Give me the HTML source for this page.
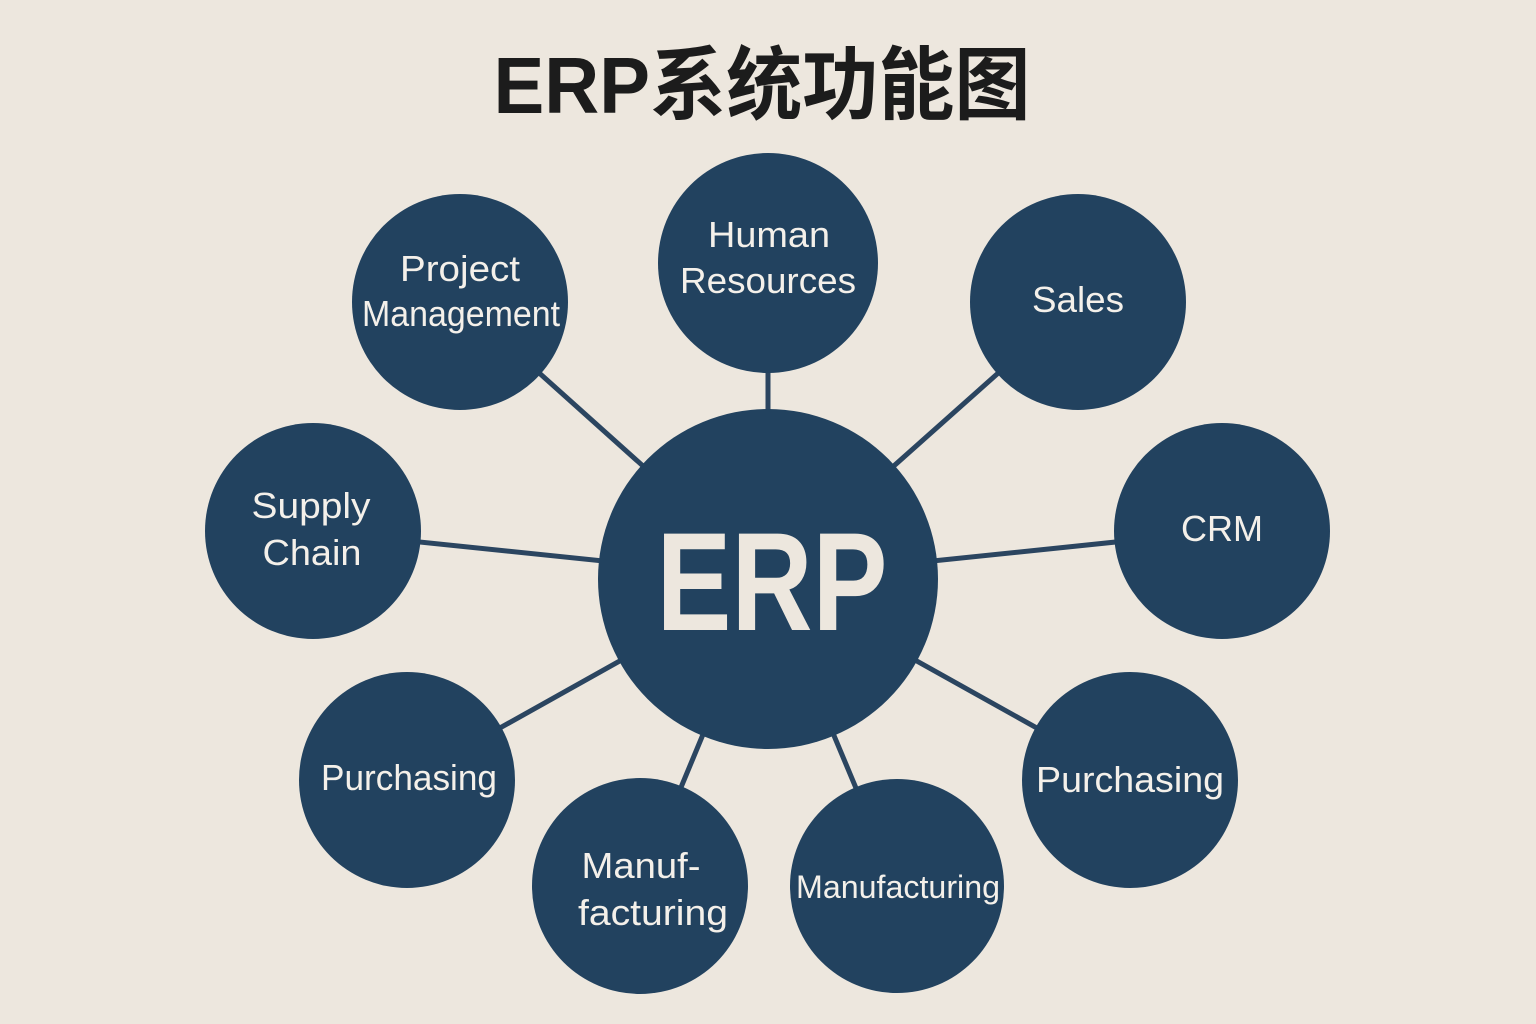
<!DOCTYPE html>
<html><head><meta charset="utf-8"><style>
html,body{margin:0;padding:0;background:#EDE7DE;}
svg{display:block}
text{font-family:"Liberation Sans","Noto Sans CJK SC",sans-serif;fill:#F4F0EA;text-anchor:middle}
</style></head><body>
<svg width="1536" height="1024" viewBox="0 0 1536 1024">
<rect width="1536" height="1024" fill="#EDE7DE"/>
<text x="762" y="113" style="fill:#1C1C1C;font-weight:bold;font-size:80px" textLength="537" lengthAdjust="spacingAndGlyphs">ERP系统功能图</text>
<g stroke="#2B4560" stroke-width="5">
<line x1="768" y1="578" x2="768" y2="263"/>
<line x1="768" y1="578" x2="460" y2="302"/>
<line x1="768" y1="578" x2="1078" y2="302"/>
<line x1="768" y1="578" x2="313" y2="531"/>
<line x1="768" y1="578" x2="1222" y2="531"/>
<line x1="768" y1="578" x2="407" y2="780"/>
<line x1="768" y1="578" x2="1130" y2="780"/>
<line x1="768" y1="578" x2="640" y2="886"/>
<line x1="768" y1="578" x2="897" y2="886"/>
</g>
<g fill="#22425F">
<circle cx="768" cy="579" r="170"/>
<circle cx="768" cy="263" r="110"/>
<circle cx="460" cy="302" r="108"/>
<circle cx="1078" cy="302" r="108"/>
<circle cx="313" cy="531" r="108"/>
<circle cx="1222" cy="531" r="108"/>
<circle cx="407" cy="780" r="108"/>
<circle cx="1130" cy="780" r="108"/>
<circle cx="640" cy="886" r="108"/>
<circle cx="897" cy="886" r="107"/>
</g>
<text x="772" y="630" style="font-weight:bold;font-size:140px;fill:#EDE7DE" textLength="231" lengthAdjust="spacingAndGlyphs">ERP</text>
<g style="font-size:36px">
<text x="769" y="247" textLength="122" lengthAdjust="spacingAndGlyphs">Human</text>
<text x="768" y="293" textLength="176" lengthAdjust="spacingAndGlyphs">Resources</text>
<text x="460" y="281" textLength="120" lengthAdjust="spacingAndGlyphs">Project</text>
<text x="461" y="326" textLength="198" lengthAdjust="spacingAndGlyphs">Management</text>
<text x="1078" y="312" textLength="92" lengthAdjust="spacingAndGlyphs">Sales</text>
<text x="311" y="518" textLength="119" lengthAdjust="spacingAndGlyphs">Supply</text>
<text x="312" y="565" textLength="99" lengthAdjust="spacingAndGlyphs">Chain</text>
<text x="1222" y="541" textLength="82" lengthAdjust="spacingAndGlyphs">CRM</text>
<text x="409" y="790" textLength="176" lengthAdjust="spacingAndGlyphs">Purchasing</text>
<text x="1130" y="792" textLength="188" lengthAdjust="spacingAndGlyphs">Purchasing</text>
<text x="641" y="878" textLength="119" lengthAdjust="spacingAndGlyphs">Manuf-</text>
<text x="653" y="925" textLength="150" lengthAdjust="spacingAndGlyphs">facturing</text>
<text x="898" y="898" style="font-size:32px" textLength="204" lengthAdjust="spacingAndGlyphs">Manufacturing</text>
</g>
</svg>
</body></html>
